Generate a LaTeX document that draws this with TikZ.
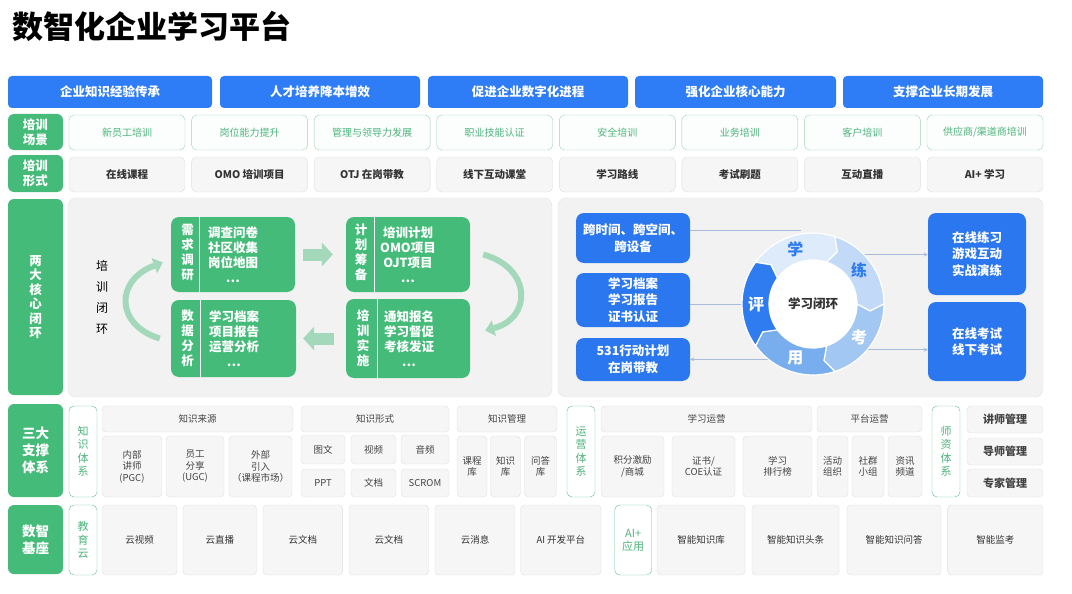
\documentclass[tikz,border=0pt]{standalone}
\usepackage{fontspec}
\setmainfont{Noto Sans CJK SC}
\usetikzlibrary{arrows.meta}
\usetikzlibrary{calc}
\definecolor{barblue}{HTML}{2F7DF6}
\definecolor{loopblue}{HTML}{2A77F0}
\definecolor{labgreen}{HTML}{45BB79}
\definecolor{scenline}{HTML}{9FD2B5}
\definecolor{scenfill}{HTML}{FBFEFC}
\definecolor{scentext}{HTML}{4DB47C}
\definecolor{outline}{HTML}{62BF8C}
\definecolor{cellline}{HTML}{DEDEDE}
\definecolor{cellfill}{HTML}{F6F6F6}
\definecolor{celltext}{HTML}{444444}
\definecolor{darktext}{HTML}{333333}
\definecolor{panelline}{HTML}{E3E3E3}
\definecolor{panelfill}{HTML}{F2F2F2}
\definecolor{arrowgreen}{HTML}{A3D9BA}
\definecolor{linkblue}{HTML}{A9BBD9}
\definecolor{segxue}{HTML}{DDEBFB}
\definecolor{seglian}{HTML}{C2DAF8}
\definecolor{segkao}{HTML}{A3C7F3}
\definecolor{segyong}{HTML}{78AEEE}
\definecolor{segping}{HTML}{2F7CF0}
\tikzset{
  wh/.style 2 args={minimum width=#1pt, minimum height=#2pt, inner sep=0pt, align=center},
  bar/.style={fill=barblue, rounded corners=4pt, text=white, font=\fontsize{12.5}{15}\selectfont\bfseries},
  lab/.style={fill=labgreen, rounded corners=6pt, text=white, font=\fontsize{12.5}{14.5}\selectfont\bfseries},
  scen/.style={draw=scenline, fill=scenfill, rounded corners=5pt, text=scentext, font=\fontsize{10}{12}\selectfont},
  form/.style={draw=cellline, fill=cellfill, rounded corners=5pt, text=darktext, font=\fontsize{10.5}{13}\selectfont\bfseries},
  panel/.style={draw=panelline, fill=panelfill, rounded corners=8pt},
  gbox/.style={fill=labgreen, rounded corners=8pt},
  gtxt/.style={text=white, align=center, inner sep=0pt, font=\fontsize{12.5}{15}\selectfont\bfseries},
  divider/.style={draw=white, line width=0.8pt},
  garrow/.style={draw=arrowgreen, line width=12pt, -{Triangle[length=11pt,width=24pt,line width=0pt]}},
  carrow/.style={draw=arrowgreen, line width=6pt, -{Triangle[length=9pt,width=16pt,line width=0pt]}},
  bbox/.style={fill=loopblue, rounded corners=8pt, text=white, font=\fontsize{12.5}{16.5}\selectfont\bfseries},
  link/.style={draw=linkblue, line width=0.8pt},
  linkto/.style={link, -{Stealth[length=4pt,width=4pt]}},
  seg/.style={draw=white, line width=1.2pt},
  segtxt/.style={font=\fontsize{16}{16}\selectfont\bfseries, inner sep=0pt},
  cell/.style={draw=cellline, fill=cellfill, rounded corners=4pt, text=celltext, font=\fontsize{9.5}{11.5}\selectfont},
  outl/.style={draw=outline, fill=white, rounded corners=5pt, text=scentext, font=\fontsize{11}{13.5}\selectfont},
  mgmt/.style={cell, font=\fontsize{11}{13}\selectfont\bfseries},
  base/.style={cell, text=darktext, font=\fontsize{9.5}{11}\selectfont},
}

\begin{document}
\begin{tikzpicture}[x=1pt,y=-1pt]
    \useasboundingbox (0,0) rectangle (1072,594);
    \node[anchor=west, inner sep=0pt, font=\fontsize{31}{31}\selectfont\bfseries] (title) at (12,26) {数智化企业学习平台};
    % goals
    \node[bar, wh={204}{32}] (g1) at (110,92) {企业知识经验传承};
    \node[bar, wh={200}{32}] (g2) at (320,92) {人才培养降本增效};
    \node[bar, wh={200}{32}] (g3) at (528,92) {促进企业数字化进程};
    \node[bar, wh={201}{32}] (g4) at (735.5,92) {强化企业核心能力};
    \node[bar, wh={200}{32}] (g5) at (943,92) {支撑企业长期发展};
    % row labels
    \node[lab, wh={55}{36}] (l1) at (35.5,132) {培训\\场景};
    \node[lab, wh={55}{37}] (l2) at (35.5,173.5) {培训\\形式};
    \node[lab, wh={55}{196}] (l3) at (35.5,297) {两\\大\\核\\心\\闭\\环};
    \node[lab, wh={55}{93}, font=\fontsize{13.5}{17}\selectfont\bfseries] (l4) at (35.5,450.5) {三大\\支撑\\体系};
    \node[lab, wh={55}{69}, font=\fontsize{13.5}{17}\selectfont\bfseries] (l5) at (35.5,539.5) {数智\\基座};
    % scenes
    \node[scen, wh={116}{35}] (s1) at (127,132.5) {新员工培训};
    \node[scen, wh={116}{35}] (s2) at (249.6,132.5) {岗位能力提升};
    \node[scen, wh={116}{35}] (s3) at (372.1,132.5) {管理与领导力发展};
    \node[scen, wh={116}{35}] (s4) at (494.7,132.5) {职业技能认证};
    \node[scen, wh={116}{35}] (s5) at (617.3,132.5) {安全培训};
    \node[scen, wh={116}{35}] (s6) at (739.9,132.5) {业务培训};
    \node[scen, wh={116}{35}] (s7) at (862.4,132.5) {客户培训};
    \node[scen, wh={116}{35}] (s8) at (985,132.5) {供应商/渠道商培训};
    % forms
    \node[form, wh={116}{35}] (f1) at (127,174.5) {在线课程};
    \node[form, wh={116}{35}] (f2) at (249.6,174.5) {OMO 培训项目};
    \node[form, wh={116}{35}] (f3) at (372.1,174.5) {OTJ 在岗带教};
    \node[form, wh={116}{35}] (f4) at (494.7,174.5) {线下互动课堂};
    \node[form, wh={116}{35}] (f5) at (617.3,174.5) {学习路线};
    \node[form, wh={116}{35}] (f6) at (739.9,174.5) {考试刷题};
    \node[form, wh={116}{35}] (f7) at (862.4,174.5) {互动直播};
    \node[form, wh={116}{35}] (f8) at (985,174.5) {AI+ 学习};
    % training loop
    \node[panel, wh={484}{199}] (pl) at (310,297.5) {};
    \node[align=center, inner sep=0pt, font=\fontsize{12}{21}\selectfont] (pxbh) at (102,297) {培\\训\\闭\\环};
    \node[gbox, wh={124}{75}] (xq) at (233,254.5) {};
    \draw[divider] (199,217) -- (199,292);
    \node[gtxt] (xqt) at (187.5,252) {需\\求\\调\\研};
    \node[gtxt] (xqc) at (233,254.5) {调查问卷\\社区收集\\岗位地图\\…};
    \node[gbox, wh={124}{75}] (jh) at (408,254.5) {};
    \draw[divider] (374,217) -- (374,292);
    \node[gtxt] (jht) at (361,252) {计\\划\\筹\\备};
    \node[gtxt] (jhc) at (408,254.5) {培训计划\\OMO项目\\OJT项目\\…};
    \node[gbox, wh={124}{79}] (ss) at (408,338.5) {};
    \draw[divider] (377.5,299) -- (377.5,378);
    \node[gtxt] (sst) at (363,338.5) {培\\训\\实\\施};
    \node[gtxt] (ssc) at (409,338.5) {通知报名\\学习督促\\考核发证\\…};
    \node[gbox, wh={125}{77}] (fx) at (233.5,338.5) {};
    \draw[divider] (200,300) -- (200,377);
    \node[gtxt] (fxt) at (187.5,338.5) {数\\据\\分\\析};
    \node[gtxt] (fxc) at (234,338.5) {学习档案\\项目报告\\运营分析\\…};
    \draw[garrow, shorten <=8pt, shorten >=13pt] (xq) -- (jh);
    \draw[garrow, shorten <=12pt, shorten >=7pt] (ss) -- (fx);
    \draw[carrow] ([xshift=13pt]jh.east) .. controls (532,268) and (532,318) .. ([xshift=15pt,yshift=8pt]ss.east);
    \draw[carrow] ([xshift=-11pt]fx.west) .. controls (115,325) and (115,280) .. ([xshift=-8pt,yshift=-8pt]xq.west);
    % learning loop
    \node[panel, wh={485}{199}] (pr) at (800.5,297.5) {};
    \node[bbox, wh={114}{50}] (b1) at (633,238) {跨时间、跨空间、\\跨设备};
    \node[bbox, wh={114}{54}] (b2) at (633,300) {学习档案\\学习报告\\证书认证};
    \node[bbox, wh={114}{43}] (b3) at (633,359.5) {531行动计划\\在岗带教};
    \node[bbox, wh={98}{82}] (b4) at (977,254) {在线练习\\游戏互动\\实战演练};
    \node[bbox, wh={98}{79}] (b5) at (977,341.5) {在线考试\\线下考试};
    \node[circle, minimum size=142pt, inner sep=0pt] (loop) at (813,304) {};
    \coordinate (c1) at ([yshift=8pt]b1.east);
    \draw[link] (c1) -- (c1 -| loop.100);
    \draw[link] (loop.west) -- (loop.west -| b2.east);
    \draw[linkto] (loop.231) -- (loop.231 -| b3.east);
    \draw[linkto] (loop.44) -- (loop.44 -| b4.west);
    \draw[linkto] (loop.320) -- (loop.320 -| b5.west);
    \begin{scope}[shift={(813,304)}]
      \foreach \a/\c in {144/segxue, 72/seglian, 0/segkao, -72/segyong, -144/segping}{
        \filldraw[seg, fill=\c] (\a:71pt) arc[start angle=\a, end angle=\a-72, radius=71pt]
          -- (\a-79:57.5pt) -- (\a-72:44pt) arc[start angle=\a-72, end angle=\a, radius=44pt]
          -- (\a-7:57.5pt) -- cycle;
      }
      \fill[white] (0:0pt) circle[radius=44pt];
      \node[segtxt, text=segping] (xue) at (108:57pt) {学};
      \node[segtxt, text=segping] (lian) at (36:57pt) {练};
      \node[segtxt, text=white] (kao) at (-36:57pt) {考};
      \node[segtxt, text=white] (yong) at (-108:57pt) {用};
      \node[segtxt, text=white] (ping) at (180:57pt) {评};
    \end{scope}
    \node[font=\fontsize{12.5}{15}\selectfont\bfseries, text=darktext] (xxbh) at (loop.center) {学习闭环};
    % support systems
    \node[outl, wh={28}{91}] (zs) at (83,451.5) {知\\识\\体\\系};
    \node[cell, wh={191}{26}] (zly) at (197.5,419) {知识来源};
    \node[cell, wh={60}{61}] (zl1) at (132,466.5) {内部\\讲师\\(PGC)};
    \node[cell, wh={58}{61}] (zl2) at (195,466.5) {员工\\分享\\(UGC)};
    \node[cell, wh={63}{61}] (zl3) at (260.5,466.5) {外部\\引入\\（课程市场）};
    \node[cell, wh={148}{26}] (zxs) at (375,419) {知识形式};
    \node[cell, wh={44}{29}] (zx1) at (323,449.5) {图文};
    \node[cell, wh={45}{29}] (zx2) at (373.5,449.5) {视频};
    \node[cell, wh={48}{29}] (zx3) at (425,449.5) {音频};
    \node[cell, wh={44}{28}] (zx4) at (323,483) {PPT};
    \node[cell, wh={45}{28}] (zx5) at (373.5,483) {文档};
    \node[cell, wh={48}{28}] (zx6) at (425,483) {SCROM};
    \node[cell, wh={100}{26}] (zgl) at (507,419) {知识管理};
    \node[cell, wh={30}{61}] (zg1) at (472,466.5) {课程\\库};
    \node[cell, wh={30}{61}] (zg2) at (505.5,466.5) {知识\\库};
    \node[cell, wh={32}{61}] (zg3) at (540.5,466.5) {问答\\库};
    \node[outl, wh={28}{91}] (yy) at (581,451.5) {运\\营\\体\\系};
    \node[cell, wh={211}{26}] (xyy) at (706.5,419) {学习运营};
    \node[cell, wh={63}{61}] (xy1) at (632.5,466.5) {积分激励\\/商城};
    \node[cell, wh={63}{61}] (xy2) at (703.5,466.5) {证书/\\COE认证};
    \node[cell, wh={69}{61}] (xy3) at (777.5,466.5) {学习\\排行榜};
    \node[cell, wh={105}{26}] (ptyy) at (869.5,419) {平台运营};
    \node[cell, wh={31}{61}] (pt1) at (832.5,466.5) {活动\\组织};
    \node[cell, wh={32}{61}] (pt2) at (868,466.5) {社群\\小组};
    \node[cell, wh={34}{61}] (pt3) at (905,466.5) {资讯\\频道};
    \node[outl, wh={28}{91}] (sz) at (946,451.5) {师\\资\\体\\系};
    \node[mgmt, wh={76}{27}] (sz1) at (1005,419.5) {讲师管理};
    \node[mgmt, wh={76}{27}] (sz2) at (1005,451.5) {导师管理};
    \node[mgmt, wh={76}{28}] (sz3) at (1005,483) {专家管理};
    % base
    \node[outl, wh={28}{70}] (jyy) at (83,540) {教\\育\\云};
    \node[base, wh={75}{70}] (y1) at (139.5,540) {云视频};
    \node[base, wh={73.5}{70}] (y2) at (219.75,540) {云直播};
    \node[base, wh={79.6}{70}] (y3) at (302.8,540) {云文档};
    \node[base, wh={79.7}{70}] (y4) at (388.85,540) {云文档};
    \node[base, wh={80}{70}] (y5) at (475,540) {云消息};
    \node[base, wh={80.3}{70}] (y6) at (560.85,540) {AI 开发平台};
    \node[outl, wh={37}{70}, font=\fontsize{11}{13}\selectfont] (aiyy) at (633.2,540) {AI+\\应用};
    \node[base, wh={88}{70}] (a1) at (701,540) {智能知识库};
    \node[base, wh={87}{70}] (a2) at (795.5,540) {智能知识头条};
    \node[base, wh={94}{70}] (a3) at (894,540) {智能知识问答};
    \node[base, wh={95.4}{70}] (a4) at (995.3,540) {智能监考};
\end{tikzpicture}
\end{document}
